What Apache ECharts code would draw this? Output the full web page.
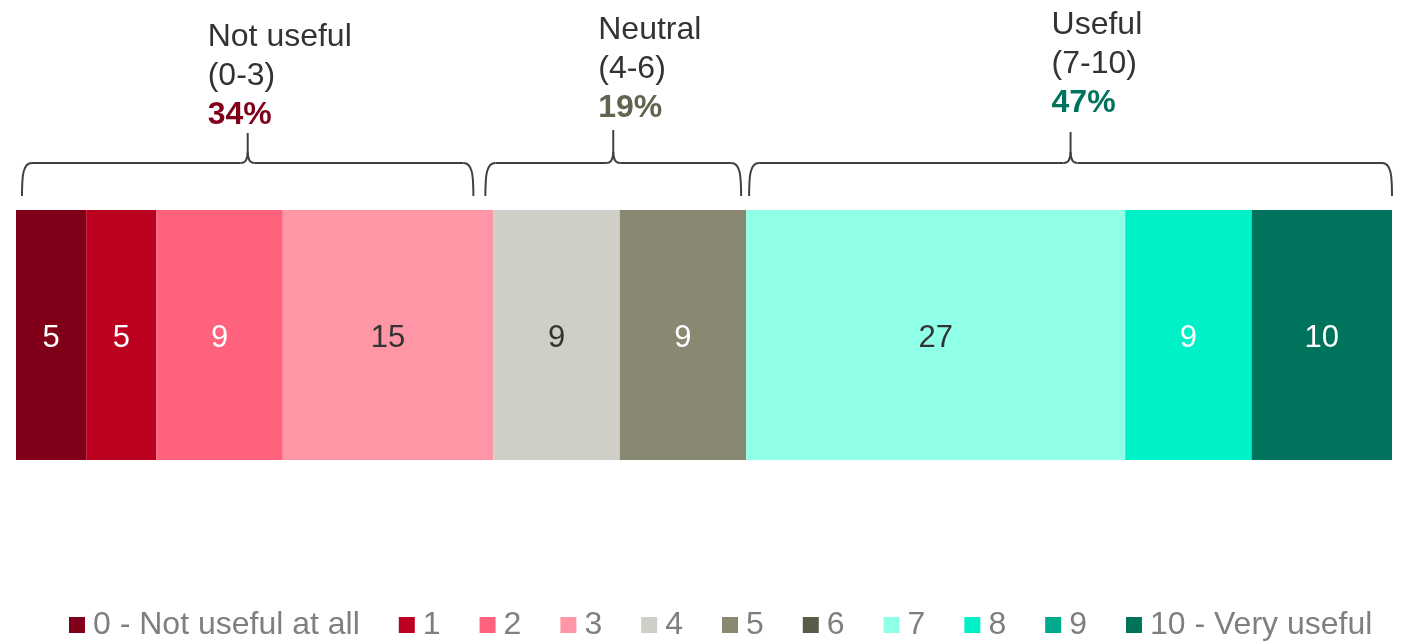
<!DOCTYPE html>
<html>
<head>
<meta charset="utf-8">
<script src="https://cdn.jsdelivr.net/npm/echarts@6/dist/echarts.min.js"></script>
<style>
html,body{margin:0;padding:0;background:#fff;}
#chart{width:1402px;height:643px;}
</style>
</head>
<body>
<div id="chart"></div>
<script>
// ---- data ----
const seriesNames = ['0 - Not useful at all','1','2','3','4','5','6','7','8','9','10 - Very useful'];
const seriesValues = [5, 5, 9, 15, 9, 9, 0, 27, 9, 0, 10];
const seriesColors = ['#7f0018','#bb0020','#ff627c','#ff96a6','#cfcfc7','#898872','#5b5b4b','#8fffe8','#00f0c8','#00aa8c','#00735c'];
const labelColors  = ['#ffffff','#ffffff','#ffffff','#333333','#333333','#ffffff','#ffffff','#333333','#ffffff','#ffffff','#ffffff'];
const groupNames = ['Not useful', 'Neutral', 'Useful'];
const groupRanges = ['(0-3)', '(4-6)', '(7-10)'];
const groupPercents = ['34%', '19%', '47%'];
const groupPercentColors = ['#7f0018', '#63634f', '#00735c'];
const groupSeriesEnd = [4, 6, 11]; // series index (exclusive) closing each group

const FONT = '"Liberation Sans", Arial, sans-serif';
const total = seriesValues.reduce((a, b) => a + b, 0);

const chart = echarts.init(document.getElementById('chart'));

const series = seriesNames.map((name, i) => ({
  name: name,
  type: 'bar',
  stack: 'all',
  barWidth: 250,
  itemStyle: { color: seriesColors[i] },
  label: {
    show: true,
    position: 'inside',
    offset: [0, 3],
    color: labelColors[i],
    fontSize: 31,
    fontFamily: FONT,
    formatter: p => (p.value > 0 ? String(p.value) : '')
  },
  emphasis: { disabled: true },
  data: [seriesValues[i]]
}));

chart.setOption({
  animation: false,
  backgroundColor: '#ffffff',
  grid: { left: 16, right: 10, top: 210, bottom: 183, containLabel: false },
  xAxis: { type: 'value', min: 0, max: total, show: false },
  yAxis: { type: 'category', data: [''], show: false },
  legend: {
    left: 69,
    top: 609,
    padding: 0,
    icon: 'rect',
    itemWidth: 16,
    itemHeight: 16,
    itemGap: 39,
    textStyle: { fontSize: 32, color: '#7f7f7f', fontFamily: FONT, padding: [0, 0, 0, 3] },
    data: seriesNames
  },
  series: series
});

// ---- braces and group headers, positioned through the x axis scale ----
const cum = [0];
let acc = 0;
for (let i = 0; i < seriesValues.length; i++) { acc += seriesValues[i]; cum.push(acc); }
const px = v => chart.convertToPixel({ xAxisIndex: 0 }, v);

const insets = [[7, -21], [-7, -6], [4, -1]];
const textDx = [-40, -15, -19];
const textBaseY = [53, 46, 41];
const peakY = [133, 130, 132];
const lineY = 163, bottomY = 196;

const braceStyle = { stroke: '#404040', lineWidth: 2, fill: null };
const graphics = [];
let start = 0;
groupSeriesEnd.forEach((end, g) => {
  const x0 = px(cum[start]) + insets[g][0];
  const x1 = px(cum[end]) + insets[g][1];
  const xm = (x0 + x1) / 2;
  const yt = peakY[g];
  const r = 9;
  graphics.push({ type: 'bezierCurve', shape: { x1: x0 - 1, y1: bottomY, x2: x0 + r, y2: lineY, cpx1: x0 - 1, cpy1: lineY + 12, cpx2: x0, cpy2: lineY }, style: braceStyle });
  graphics.push({ type: 'line', shape: { x1: x0 + r, y1: lineY, x2: xm - 7, y2: lineY }, style: braceStyle });
  graphics.push({ type: 'bezierCurve', shape: { x1: xm - 7, y1: lineY, x2: xm, y2: lineY - 11, cpx1: xm, cpy1: lineY }, style: braceStyle });
  graphics.push({ type: 'line', shape: { x1: xm, y1: lineY - 11, x2: xm, y2: yt }, style: braceStyle });
  graphics.push({ type: 'bezierCurve', shape: { x1: xm, y1: lineY - 11, x2: xm + 7, y2: lineY, cpx1: xm, cpy1: lineY }, style: braceStyle });
  graphics.push({ type: 'line', shape: { x1: xm + 7, y1: lineY, x2: x1 - r, y2: lineY }, style: braceStyle });
  graphics.push({ type: 'bezierCurve', shape: { x1: x1 - r, y1: lineY, x2: x1 + 1, y2: bottomY, cpx1: x1, cpy1: lineY, cpx2: x1 + 1, cpy2: lineY + 12 }, style: braceStyle });

  const tx = xm + textDx[g];
  const b = textBaseY[g];
  graphics.push({
    type: 'text', x: tx, y: b,
    style: { text: groupNames[g], fill: '#333333', font: '32px ' + FONT, verticalAlign: 'bottom' }
  });
  graphics.push({
    type: 'text', x: tx, y: b + 39,
    style: { text: groupRanges[g], fill: '#333333', font: '32px ' + FONT, verticalAlign: 'bottom' }
  });
  graphics.push({
    type: 'text', x: tx, y: b + 78,
    style: { text: groupPercents[g], fill: groupPercentColors[g], font: 'bold 32px ' + FONT, verticalAlign: 'bottom' }
  });
  start = end;
});
chart.setOption({ graphic: graphics });
</script>
</body>
</html>
